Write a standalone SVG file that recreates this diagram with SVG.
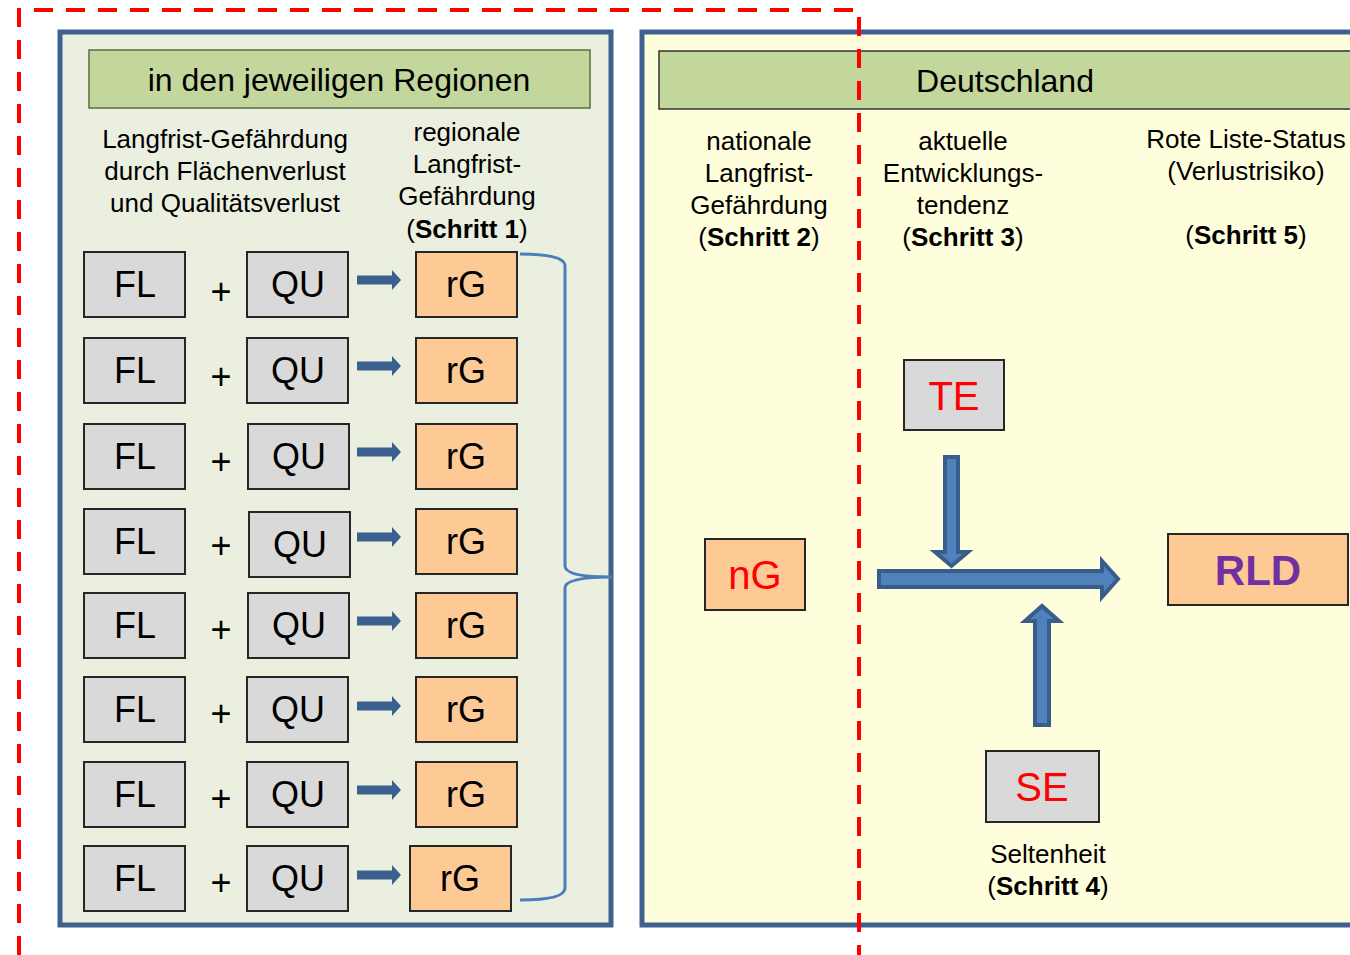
<svg xmlns="http://www.w3.org/2000/svg" xmlns:xlink="http://www.w3.org/1999/xlink" width="1350" height="955" viewBox="0 0 1350 955">
<style>
.t{font-family:"Liberation Sans",Arial,sans-serif;fill:#000;text-anchor:middle}
.b{font-weight:bold}
.lbl{font-size:26px}
.hd{font-size:32px}
.box{font-size:36px}
.big{font-size:40px}
.gray{fill:#d9d9d9;stroke:#262626;stroke-width:2}
.orange{fill:#fdc995;stroke:#262626;stroke-width:2}
.hdr{fill:#c3d69b;stroke:#5f6b47;stroke-width:1.5}
.red{fill:#ff0000}
.sa{fill:#3b5f8e}
.ba{fill:#4f81bd;stroke:#385d8a;stroke-width:4;stroke-linejoin:miter}
</style>
<defs>
<path id="sarrow" d="M357,-4.5 H392 V-10 L401,0 L392,10 V4.5 H357 Z"/>
</defs>
<rect width="1350" height="955" fill="#ffffff"/>

<g id="panel-left">
<rect x="60" y="32" width="551" height="893" fill="#ebefdf" stroke="#3e6190" stroke-width="5"/>
<rect class="hdr" x="89" y="50" width="501" height="58"/>
<text class="t hd" x="339" y="91">in den jeweiligen Regionen</text>
<text class="t lbl" x="225" y="148">Langfrist-Gefährdung</text>
<text class="t lbl" x="225" y="180">durch Flächenverlust</text>
<text class="t lbl" x="225" y="212">und Qualitätsverlust</text>
<text class="t lbl" x="467" y="141">regionale</text>
<text class="t lbl" x="467" y="173">Langfrist-</text>
<text class="t lbl" x="467" y="205">Gefährdung</text>
<text class="t lbl" x="467" y="238">(<tspan class="b">Schritt 1</tspan>)</text>
</g>

<g id="panel-right">
<rect x="642" y="32" width="730" height="893" fill="#fffedc" stroke="#3e6190" stroke-width="5"/>
<rect class="hdr" x="659" y="51" width="700" height="58" style="stroke:#333333"/>
<text class="t hd" x="1005" y="92">Deutschland</text>
<text class="t lbl" x="759" y="150">nationale</text>
<text class="t lbl" x="759" y="182">Langfrist-</text>
<text class="t lbl" x="759" y="214">Gefährdung</text>
<text class="t lbl" x="759" y="246">(<tspan class="b">Schritt 2</tspan>)</text>
<text class="t lbl" x="963" y="150">aktuelle</text>
<text class="t lbl" x="963" y="182">Entwicklungs-</text>
<text class="t lbl" x="963" y="214">tendenz</text>
<text class="t lbl" x="963" y="246">(<tspan class="b">Schritt 3</tspan>)</text>
<text class="t lbl" x="1246" y="148">Rote Liste-Status</text>
<text class="t lbl" x="1246" y="180">(Verlustrisiko)</text>
<text class="t lbl" x="1246" y="244">(<tspan class="b">Schritt 5</tspan>)</text>
</g>

<g id="row1">
<rect class="gray" x="84" y="252" width="101" height="65"/><text class="t box" x="135" y="297">FL</text>
<text class="t box" x="221" y="304">+</text>
<rect class="gray" x="247" y="252" width="101" height="65"/><text class="t box" x="298" y="297">QU</text>
<rect class="orange" x="416" y="252" width="101" height="65"/><text class="t box" x="466" y="297">rG</text>
</g>
<g id="row2">
<rect class="gray" x="84" y="338" width="101" height="65"/><text class="t box" x="135" y="383">FL</text>
<text class="t box" x="221" y="389">+</text>
<rect class="gray" x="247" y="338" width="101" height="65"/><text class="t box" x="298" y="383">QU</text>
<rect class="orange" x="416" y="338" width="101" height="65"/><text class="t box" x="466" y="383">rG</text>
</g>
<g id="row3">
<rect class="gray" x="84" y="424" width="101" height="65"/><text class="t box" x="135" y="469">FL</text>
<text class="t box" x="221" y="474">+</text>
<rect class="gray" x="248" y="424" width="101" height="65"/><text class="t box" x="299" y="469">QU</text>
<rect class="orange" x="416" y="424" width="101" height="65"/><text class="t box" x="466" y="469">rG</text>
</g>
<g id="row4">
<rect class="gray" x="84" y="509" width="101" height="65"/><text class="t box" x="135" y="554">FL</text>
<text class="t box" x="221" y="558">+</text>
<rect class="gray" x="249" y="512" width="101" height="65"/><text class="t box" x="300" y="557">QU</text>
<rect class="orange" x="416" y="509" width="101" height="65"/><text class="t box" x="466" y="554">rG</text>
</g>
<g id="row5">
<rect class="gray" x="84" y="593" width="101" height="65"/><text class="t box" x="135" y="638">FL</text>
<text class="t box" x="221" y="642">+</text>
<rect class="gray" x="248" y="593" width="101" height="65"/><text class="t box" x="299" y="638">QU</text>
<rect class="orange" x="416" y="593" width="101" height="65"/><text class="t box" x="466" y="638">rG</text>
</g>
<g id="row6">
<rect class="gray" x="84" y="677" width="101" height="65"/><text class="t box" x="135" y="722">FL</text>
<text class="t box" x="221" y="726">+</text>
<rect class="gray" x="247" y="677" width="101" height="65"/><text class="t box" x="298" y="722">QU</text>
<rect class="orange" x="416" y="677" width="101" height="65"/><text class="t box" x="466" y="722">rG</text>
</g>
<g id="row7">
<rect class="gray" x="84" y="762" width="101" height="65"/><text class="t box" x="135" y="807">FL</text>
<text class="t box" x="221" y="811">+</text>
<rect class="gray" x="247" y="762" width="101" height="65"/><text class="t box" x="298" y="807">QU</text>
<rect class="orange" x="416" y="762" width="101" height="65"/><text class="t box" x="466" y="807">rG</text>
</g>
<g id="row8">
<rect class="gray" x="84" y="846" width="101" height="65"/><text class="t box" x="135" y="891">FL</text>
<text class="t box" x="221" y="895">+</text>
<rect class="gray" x="247" y="846" width="101" height="65"/><text class="t box" x="298" y="891">QU</text>
<rect class="orange" x="410" y="846" width="101" height="65"/><text class="t box" x="460" y="891">rG</text>
</g>

<g id="node-nG">
<rect class="orange" x="705" y="539" width="100" height="71"/>
<text class="t big" x="755" y="589" style="fill:#ff0000">nG</text>
</g>
<g id="node-TE">
<rect class="gray" x="904" y="360" width="100" height="70"/>
<text class="t big" x="954" y="410" style="fill:#ff0000">TE</text>
</g>
<g id="node-SE">
<rect class="gray" x="986" y="751" width="113" height="71"/>
<text class="t big" x="1042" y="801" style="fill:#ff0000">SE</text>
<text class="t lbl" x="1048" y="863">Seltenheit</text>
<text class="t lbl" x="1048" y="895">(<tspan class="b">Schritt 4</tspan>)</text>
</g>
<g id="node-RLD">
<rect class="orange" x="1168" y="534" width="180" height="71"/>
<text class="t b" x="1258" y="585" style="font-size:42px;fill:#7030a0">RLD</text>
</g>

<g id="connectors">
<use xlink:href="#sarrow" href="#sarrow" class="sa" y="280"/>
<use xlink:href="#sarrow" href="#sarrow" class="sa" y="366"/>
<use xlink:href="#sarrow" href="#sarrow" class="sa" y="452"/>
<use xlink:href="#sarrow" href="#sarrow" class="sa" y="537"/>
<use xlink:href="#sarrow" href="#sarrow" class="sa" y="621"/>
<use xlink:href="#sarrow" href="#sarrow" class="sa" y="706"/>
<use xlink:href="#sarrow" href="#sarrow" class="sa" y="790"/>
<use xlink:href="#sarrow" href="#sarrow" class="sa" y="875"/>
<path d="M520,254 Q565,254 565,266 V566 Q565,577 612,577 Q565,577 565,588 V888 Q565,900 520,900" fill="none" stroke="#4a7ebb" stroke-width="3"/>
<path class="ba" d="M879,571 H1102 V561 L1118,579 L1102,597 V587 H879 Z"/>
<path class="ba" d="M945,457 H958 V552 H968 L951.5,566 L935,552 H945 Z"/>
<path class="ba" d="M1035,725 H1049 V621 H1059 L1042,606 L1025,621 H1035 Z"/>
</g>

<g id="boundary">
<path d="M19,955 V10 H859 V955" fill="none" stroke="#ff0000" stroke-width="4" stroke-dasharray="19 13"/>
</g>
</svg>
